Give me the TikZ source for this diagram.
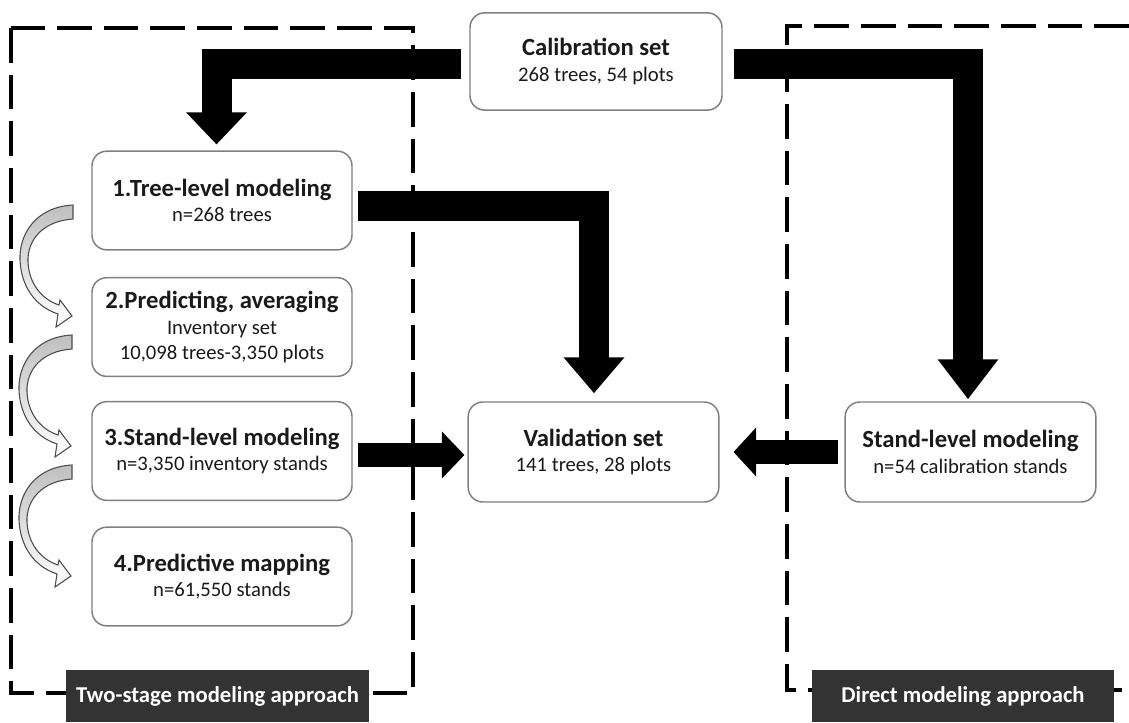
\documentclass[tikz,border=0pt]{standalone}
\usepackage{fontspec}
\setmainfont{Carlito}
\usetikzlibrary{arrows.meta,calc}
\definecolor{boxgray}{HTML}{7F7F7F}
\definecolor{labelgray}{HTML}{333333}
\definecolor{txt}{HTML}{1A1A1A}
\newcommand\boxtitle[1]{{\fontsize{18.5}{19}\selectfont\bfseries #1}}
\newcommand\curvarrow[1]{%
  \begin{scope}[shift={#1}]
    \draw[curvstyle] (0,0) .. controls (-38,2) and (-54,30) .. (-53,55)
      .. controls (-52,80) and (-39,101) .. (-15,109)
      -- (-17,122) -- (-1,111) -- (-13,95) -- (-14,100)
      .. controls (-32,94) and (-44,78) .. (-45,57)
      .. controls (-46,35) and (-30,16) .. (0,14) -- cycle;
  \end{scope}}
\begin{document}
\begin{tikzpicture}[x=0.75pt,y=-0.75pt,
  box/.style={draw=boxgray, line width=1.1pt, rounded corners=11pt, fill=white,
    minimum width=195pt, minimum height=74pt, align=center, inner sep=0pt,
    text=txt, font=\fontsize{15.5}{19}\selectfont},
  grouplabel/.style={fill=labelgray, text=white, minimum width=227pt, minimum height=39pt,
    inner sep=0pt, font=\fontsize{17}{19}\selectfont\bfseries},
  dashbox/.style={draw=black, line width=2.3pt, dash pattern=on 26pt off 9pt},
  bigarrow/.style={draw=black, line width=#1},
  curvstyle/.style={draw=gray!60!black, line width=0.8pt, top color=gray!50, bottom color=white},
]
\useasboundingbox (0,0) rectangle (1129,722);

% dashed group frames
\draw[dashbox] (11,28) rectangle (413,693);
\draw[dashbox] (1129,26) -- (787,26) -- (787,690) -- (1129,690);

% nodes
\node[box, minimum width=189pt, minimum height=73pt] (cal) at (596,61.5) {\boxtitle{Calibration set}\\268 trees, 54 plots};
\node[box] (n1) at (222,200.5) {\boxtitle{1.Tree-level modeling}\\n=268 trees};
\node[box] (n2) at (222,327) {\boxtitle{2.Predicting, averaging}\\Inventory set\\10,098 trees-3,350 plots};
\node[box] (n3) at (222,451) {\boxtitle{3.Stand-level modeling}\\n=3,350 inventory stands};
\node[box] (n4) at (222,576.5) {\boxtitle{4.Predictive mapping}\\n=61,550 stands};
\node[box, minimum width=188pt, minimum height=75pt] (val) at (593.5,452) {\boxtitle{Validation set}\\141 trees, 28 plots};
\node[box, minimum width=188pt, minimum height=75pt] (st) at (970.5,452) {\boxtitle{Stand-level modeling}\\n=54 calibration stands};

% thick arrows
\draw[bigarrow=22.5pt, -{Triangle[width=44pt,length=24pt]}]
  ($(cal.west)+(-8,2.5)$) -| ($(n1.north)+(-5.5,-6)$);
\draw[bigarrow=22.5pt, -{Triangle[width=43.5pt,length=30pt]}]
  ($(cal.east)+(11,2.5)$) -| ($(st.north)+(-2.5,-2)$);
\draw[bigarrow=22.5pt, -{Triangle[width=44pt,length=27pt]}]
  ($(n1.east)+(5,5.5)$) -| ($(val.north)+(0.5,-8)$);
\draw[bigarrow=18pt, -{Triangle[width=34.5pt,length=17pt]}]
  ($(n3.east)+(5,4)$) -- ($(val.west)+(-3,3)$);
\draw[bigarrow=18pt, -{Triangle[width=36pt,length=17pt]}]
  ($(st.west)+(-6,0)$) -- ($(val.east)+(14,0)$);

% curved step arrows
\curvarrow{(73,205)}
\curvarrow{(72,335)}
\curvarrow{(72,465)}

% group labels
\node[grouplabel] (lab1) at (217.5,696) {Two-stage modeling approach};
\node[grouplabel] (lab2) at (963,696) {Direct modeling approach};
\end{tikzpicture}
\end{document}
